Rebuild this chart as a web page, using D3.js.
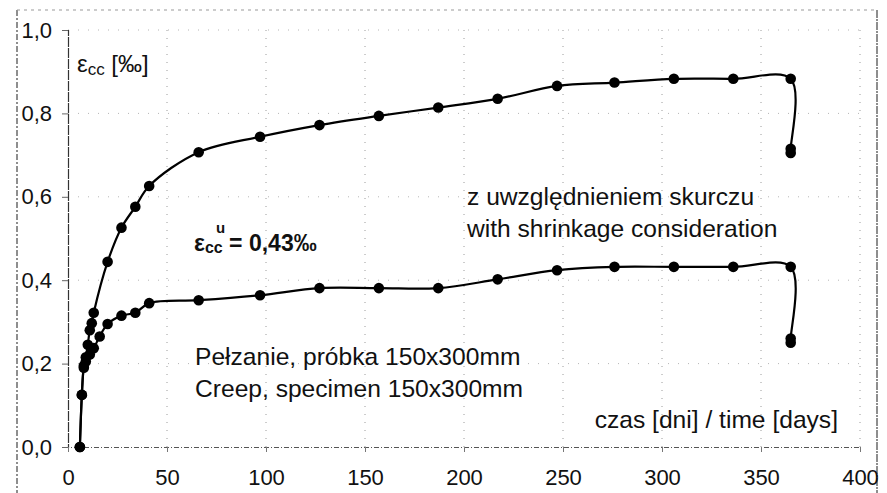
<!DOCTYPE html>
<html><head><meta charset="utf-8">
<script src="https://cdn.jsdelivr.net/npm/d3@7"></script>
<style>
html,body{margin:0;padding:0;background:#fff;}
svg{display:block;font-family:"Liberation Sans",Arial,sans-serif;}
</style></head>
<body>
<svg id="c" width="887" height="493"></svg>
<script>
// ---- data ----
const xTicks = [0, 50, 100, 150, 200, 250, 300, 350, 400];
const yTicks = [0.0, 0.2, 0.4, 0.6, 0.8, 1.0];
const yTickLabels = ["0,0", "0,2", "0,4", "0,6", "0,8", "1,0"];

const shrinkDays = [6, 7, 8, 9, 10, 11, 12, 13, 20, 27, 34, 41, 66, 97, 127, 157, 187, 217, 247, 276, 306, 336, 365, 365, 365];
const shrinkVals = [0, 0.125, 0.195, 0.215, 0.245, 0.28, 0.297, 0.322, 0.444, 0.526, 0.576, 0.626, 0.707, 0.744, 0.772, 0.794, 0.814, 0.835, 0.866, 0.874, 0.883, 0.883, 0.883, 0.715, 0.705];

const creepDays = [6, 7, 8, 9, 11, 13, 16, 20, 27, 34, 41, 66, 97, 127, 157, 187, 217, 247, 276, 306, 336, 365, 365, 365];
const creepVals = [0, 0.125, 0.19, 0.205, 0.222, 0.237, 0.265, 0.295, 0.315, 0.322, 0.345, 0.352, 0.364, 0.381, 0.381, 0.381, 0.402, 0.424, 0.432, 0.432, 0.432, 0.432, 0.26, 0.25];

const texts = {
  shrink1: "z uwzględnieniem skurczu",
  shrink2: "with shrinkage consideration",
  creep1: "Pełzanie, próbka 150x300mm",
  creep2: "Creep, specimen 150x300mm",
  xTitle: "czas [dni] / time [days]"
};

// ---- layout ----
const svg = d3.select("#c");
const L = 68, R = 860, T = 30, B = 447;
const x = d3.scaleLinear().domain([0, 400]).range([L, R]);
const y = d3.scaleLinear().domain([0, 1]).range([B, T]);
const FONT = "Liberation Sans, Arial, sans-serif";

// outer frame (dashed, scanned look)
svg.append("line").attr("x1", 17).attr("x2", 17).attr("y1", 10).attr("y2", 493)
  .attr("stroke", "#444").attr("stroke-width", 1.2).attr("stroke-dasharray", "6,2,2,2");
svg.append("line").attr("x1", 17).attr("x2", 877).attr("y1", 10).attr("y2", 10)
  .attr("stroke", "#999").attr("stroke-width", 1).attr("stroke-dasharray", "3,4");
svg.append("line").attr("x1", 877).attr("x2", 877).attr("y1", 10).attr("y2", 493)
  .attr("stroke", "#444").attr("stroke-width", 1.2).attr("stroke-dasharray", "8,1,2,1");

// grid
const grid = svg.append("g");
grid.selectAll("line.v").data(xTicks.slice(1)).enter().append("line")
  .attr("x1", d => x(d)).attr("x2", d => x(d)).attr("y1", T).attr("y2", B)
  .attr("stroke", "#9a9a9a").attr("stroke-width", 1).attr("stroke-dasharray", "1,7");
grid.selectAll("line.h").data(yTicks.slice(1)).enter().append("line")
  .attr("x1", L).attr("x2", R).attr("y1", d => y(d)).attr("y2", d => y(d))
  .attr("stroke", "#b5b5b5").attr("stroke-width", 1).attr("stroke-dasharray", "1,9");

// axes
const yAxis = d3.axisLeft(y).tickValues(yTicks).tickSize(6).tickFormat((d, i) => yTickLabels[i]);
const gy = svg.append("g").attr("transform", `translate(${L},0)`).call(yAxis);
gy.select(".domain").attr("stroke", "#333").attr("stroke-width", 1.2).attr("stroke-dasharray", "10,1");
gy.selectAll(".tick line").attr("stroke", "#666");
gy.selectAll(".tick text").attr("x", -16).attr("font-size", 22).attr("fill", "#111")
  .attr("font-family", FONT);

const xAxis = d3.axisBottom(x).tickValues(xTicks).tickSize(5).tickFormat(d3.format("d"));
const gx = svg.append("g").attr("transform", `translate(0,${B})`).call(xAxis);
gx.select(".domain").attr("stroke", "#555").attr("stroke-width", 1).attr("stroke-dasharray", "5,2,1,2");
gx.selectAll(".tick line").attr("stroke", "#777");
gx.selectAll(".tick text").attr("y", 22).attr("font-size", 22).attr("fill", "#111")
  .attr("font-family", FONT);

// series
const line = d3.line().x(d => x(d[0])).y(d => y(d[1])).curve(d3.curveCatmullRom.alpha(0.5));
function series(days, vals) {
  const pts = days.map((d, i) => [d, vals[i]]);
  svg.append("path").datum(pts).attr("d", line).attr("fill", "none")
    .attr("stroke", "#000").attr("stroke-width", 2.2);
  svg.append("g").selectAll("circle").data(pts).enter().append("circle")
    .attr("cx", d => x(d[0])).attr("cy", d => y(d[1])).attr("r", 5.3).attr("fill", "#000");
}
series(creepDays, creepVals);
series(shrinkDays, shrinkVals);

// texts
const yt = svg.append("text").attr("x", 77).attr("y", 72).attr("font-size", 24).attr("fill", "#111");
yt.append("tspan").text("ε");
yt.append("tspan").attr("font-size", 17).attr("dy", 3).text("cc");
yt.append("tspan").attr("dy", -3).text(" [‰]");

const eq = svg.append("text").attr("x", 194).attr("y", 251).attr("font-size", 23)
  .attr("font-weight", "bold").attr("fill", "#111");
eq.append("tspan").text("ε");
eq.append("tspan").attr("font-size", 16).attr("dy", 2).text("cc");
eq.append("tspan").attr("dy", -2).text(" = 0,43‰");
svg.append("text").attr("x", 216).attr("y", 233).attr("font-size", 15).attr("font-weight", "bold")
  .attr("fill", "#111").text("u");

svg.append("text").attr("x", 467).attr("y", 205).attr("font-size", 24.6).attr("fill", "#111").text(texts.shrink1);
svg.append("text").attr("x", 467).attr("y", 237).attr("font-size", 24.6).attr("fill", "#111").text(texts.shrink2);
svg.append("text").attr("x", 195).attr("y", 365).attr("font-size", 24.6).attr("fill", "#111").text(texts.creep1);
svg.append("text").attr("x", 195).attr("y", 397).attr("font-size", 24.6).attr("fill", "#111").text(texts.creep2);
svg.append("text").attr("x", 838).attr("y", 428).attr("text-anchor", "end").attr("font-size", 24.6).attr("fill", "#111").text(texts.xTitle);
</script>
</body></html>
